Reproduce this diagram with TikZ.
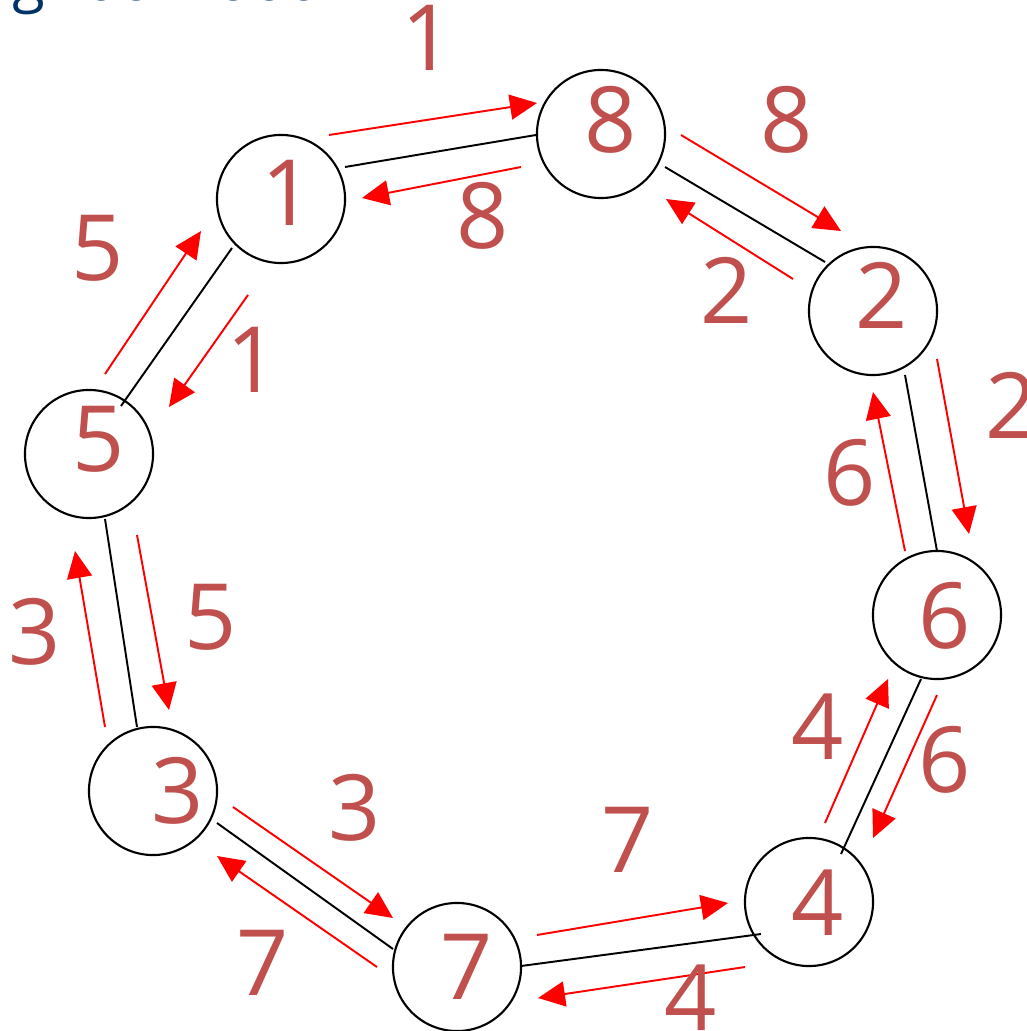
\documentclass[tikz,border=0pt]{standalone}
\usepackage{fontspec}
\setmainfont{Open Sans}
\usetikzlibrary{arrows.meta}
\definecolor{numred}{HTML}{C0504D}
\definecolor{titleblue}{RGB}{0,51,102}

\begin{document}
\begin{tikzpicture}[
        x=0.01cm, y=-0.01cm,
        >={Triangle[length=0.27cm, width=0.25cm]},
        vertex/.style={draw, circle, line width=0.6pt, minimum size=1.28cm, inner sep=0pt},
        num/.style={text=numred, inner sep=0pt, font=\fontsize{26}{30}\selectfont},
        link/.style={draw, line width=0.55pt},
        flow/.style={draw=red, line width=0.55pt, ->, red}
    ]
        \useasboundingbox (0,0) rectangle (1026,1031);
        \node[anchor=base east, inner sep=0pt, text=titleblue, font=\fontsize{17}{20}\selectfont] (ttl) at (325,1) {Neighborhood};
        % ring of nodes
        \node[vertex] (n1) at (281,199) {};
        \node[vertex] (n8) at (601,134) {};
        \node[vertex] (n2) at (873,311) {};
        \node[vertex] (n6) at (937,615) {};
        \node[vertex] (n4) at (809,902) {};
        \node[vertex] (n7) at (457,967) {};
        \node[vertex] (n3) at (153,791) {};
        \node[vertex] (n5) at (89,454) {};
        \node[num] (t1) at (288,193) {1};
        \node[num] (t8) at (611,120) {8};
        \node[num] (t2) at (882,295) {2};
        \node[num] (t6) at (945,616) {6};
        \node[num] (t4) at (818,903) {4};
        \node[num] (t7) at (467,967) {7};
        \node[num] (t3) at (178,791) {3};
        \node[num] (t5) at (99,439) {5};
        % links
        \draw[link] ([shift={(64,-32)}]n1.center) -- ([shift={(-65,1)}]n8.center);
        \draw[link] ([shift={(64,33)}]n8.center) -- ([shift={(-48,-49)}]n2.center);
        \draw[link] ([shift={(32,64)}]n2.center) -- ([shift={(0,-64)}]n6.center);
        \draw[link] ([shift={(-16,64)}]n6.center) -- ([shift={(32,-48)}]n4.center);
        \draw[link] ([shift={(-48,32)}]n4.center) -- ([shift={(64,-1)}]n7.center);
        \draw[link] ([shift={(-64,-18)}]n7.center) -- ([shift={(64,32)}]n3.center);
        \draw[link] ([shift={(-16,-64)}]n3.center) -- ([shift={(16,65)}]n5.center);
        \draw[link] ([shift={(32,-48)}]n5.center) -- ([shift={(-49,49)}]n1.center);
        % messages
        \draw[flow] ([shift={(48,-64)}]n1.center) -- ([shift={(-64,-31)}]n8.center);
        \draw[flow] ([shift={(-80,33)}]n8.center) -- ([shift={(81,-1)}]n1.center);
        \draw[flow] ([shift={(80,1)}]n8.center) -- ([shift={(-32,-80)}]n2.center);
        \draw[flow] ([shift={(-80,-32)}]n2.center) -- ([shift={(65,65)}]n8.center);
        \draw[flow] ([shift={(64,48)}]n2.center) -- ([shift={(32,-81)}]n6.center);
        \draw[flow] ([shift={(-32,-64)}]n6.center) -- ([shift={(0,81)}]n2.center);
        \draw[flow] ([shift={(0,80)}]n6.center) -- ([shift={(64,-64)}]n4.center);
        \draw[flow] ([shift={(16,-79)}]n4.center) -- ([shift={(-49,64)}]n6.center);
        \draw[flow] ([shift={(-64,65)}]n4.center) -- ([shift={(81,31)}]n7.center);
        \draw[flow] ([shift={(80,-32)}]n7.center) -- ([shift={(-81,1)}]n4.center);
        \draw[flow] ([shift={(-80,0)}]n7.center) -- ([shift={(64,65)}]n3.center);
        \draw[flow] ([shift={(80,16)}]n3.center) -- ([shift={(-64,-49)}]n7.center);
        \draw[flow] ([shift={(-48,-64)}]n3.center) -- ([shift={(-14,97)}]n5.center);
        \draw[flow] ([shift={(48,81)}]n5.center) -- ([shift={(16,-81)}]n3.center);
        \draw[flow] ([shift={(16,-80)}]n5.center) -- ([shift={(-80,32)}]n1.center);
        \draw[flow] ([shift={(-33,96)}]n1.center) -- ([shift={(80,-47)}]n5.center);
        % message labels
        \node[num] (l18) at (428,38) {1};
        \node[num] (l81) at (483,216) {8};
        \node[num] (l82) at (787,120) {8};
        \node[num] (l28) at (727,290) {2};
        \node[num] (l26) at (1012,405) {2};
        \node[num] (l62) at (850,473) {6};
        \node[num] (l46) at (818,727) {4};
        \node[num] (l64) at (945,760) {6};
        \node[num] (l74) at (628,840) {7};
        \node[num] (l47) at (691,998) {4};
        \node[num] (l37) at (355,808) {3};
        \node[num] (l73) at (263,963) {7};
        \node[num] (l35) at (35,632) {3};
        \node[num] (l53) at (211,617) {5};
        \node[num] (l51) at (98,248) {5};
        \node[num] (l15) at (253,360) {1};
\end{tikzpicture}
\end{document}
